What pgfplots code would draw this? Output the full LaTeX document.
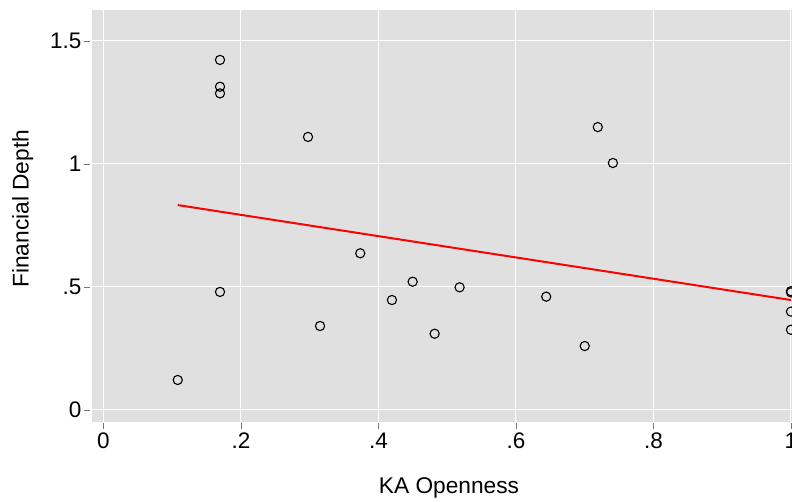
\documentclass[border=0pt]{standalone}
\usepackage{pgfplots}
\pgfplotsset{compat=1.18}
\usepackage{fontspec}
\setmainfont{Liberation Sans}
\definecolor{plotbg}{RGB}{224,224,224}
\definecolor{tickgray}{RGB}{120,120,120}
\begin{document}
\begin{tikzpicture}[x=1pt,y=1pt]
\path[use as bounding box] (-92,-80.3) rectangle (700,421.7);
\begin{axis}[
  at={(0,0)}, anchor=south west,
  scale only axis, width=700pt, height=411.7pt,
  xmin=-0.0167, xmax=1.0015, ymin=-0.0476, ymax=1.626,
  axis background/.style={fill=plotbg},
  axis line style={draw=none},
  grid=major, major grid style={white, line width=1pt},
  xtick={0,0.2,0.4,0.6,0.8,1}, xticklabels={0,.2,.4,.6,.8,1},
  ytick={0,0.5,1,1.5}, yticklabels={0,.5,1,1.5},
  tick align=outside, major tick length=6pt,
  tick style={tickgray, line width=0.8pt},
  x tick style={yshift=-1.5pt}, y tick style={xshift=-2pt},
  xtick pos=bottom, ytick pos=left,
  /pgf/number format/assume math mode=true,
  ticklabel style={font=\fontsize{22.5}{25}\selectfont},
  xticklabel style={yshift=-2pt},
  yticklabel style={xshift=-1pt},
  xlabel={KA Openness}, ylabel={Financial Depth},
  label style={font=\fontsize{22.7}{25}\selectfont},
  xlabel style={yshift=-22pt, xshift=7pt},
  ylabel style={yshift=10pt, xshift=7pt},
  clip marker paths=true,
]
\addplot[only marks, mark=o, mark size=4.6pt, mark options={draw=black, line width=1.1pt}] coordinates {
(0.108,0.122)
(0.1695,1.423)
(0.1695,1.314)
(0.1695,1.287)
(0.1695,0.480)
(0.2975,1.110)
(0.315,0.3415)
(0.3735,0.637)
(0.4196,0.447)
(0.4497,0.5215)
(0.4817,0.310)
(0.518,0.4987)
(0.644,0.4606)
(0.700,0.260)
(0.719,1.150)
(0.741,1.004)
(1,0.483)
(1,0.478)
(1,0.400)
(1,0.326)
};
\addplot[red, line width=2pt] coordinates {(0.108,0.833) (1,0.447)};
\end{axis}
\end{tikzpicture}
\end{document}
